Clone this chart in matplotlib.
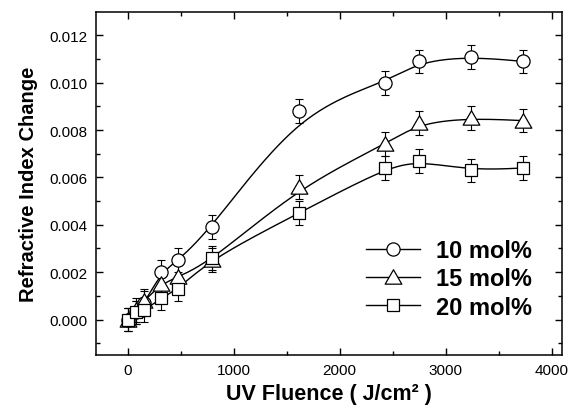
import numpy as np
import matplotlib
matplotlib.use("Agg")
import matplotlib.pyplot as plt
from matplotlib.lines import Line2D
from matplotlib.path import Path

plt.rcParams['font.family'] = ['Liberation Sans', 'DejaVu Sans']

# values
fluence = [0, 80, 160, 320, 480, 800, 1620, 2430, 2750, 3240, 3730]
dn_10 = [0.0000, 0.0003, 0.0007, 0.0020, 0.0025, 0.0039, 0.0088, 0.0100, 0.0109, 0.0111, 0.0109]
dn_15 = [0.0000, 0.0004, 0.0008, 0.0015, 0.0018, 0.0025, 0.0056, 0.0074, 0.0083, 0.0085, 0.0084]
dn_20 = [0.0000, 0.0003, 0.0004, 0.0009, 0.0013, 0.0026, 0.0045, 0.0064, 0.0067, 0.0063, 0.0064]
err = [0.0005] * 11
labels = ['10 mol%', '15 mol%', '20 mol%']

# equilateral-ish open triangle like Origin's
tri = Path([(-1.0, -0.8), (1.0, -0.8), (0.0, 0.93), (-1.0, -0.8)],
           [Path.MOVETO, Path.LINETO, Path.LINETO, Path.CLOSEPOLY])


def bspline(x, y, n=30):
    # uniform cubic B-spline with the points as control polygon (like Origin's B-spline line)
    px = np.r_[x[0], x[0], x, x[-1], x[-1]].astype(float)
    py = np.r_[y[0], y[0], y, y[-1], y[-1]].astype(float)
    t = np.linspace(0, 1, n)
    b0 = (1 - t) ** 3 / 6
    b1 = (3 * t ** 3 - 6 * t ** 2 + 4) / 6
    b2 = (-3 * t ** 3 + 3 * t ** 2 + 3 * t + 1) / 6
    b3 = t ** 3 / 6
    xs, ys = [], []
    for i in range(len(px) - 3):
        xs.append(b0 * px[i] + b1 * px[i + 1] + b2 * px[i + 2] + b3 * px[i + 3])
        ys.append(b0 * py[i] + b1 * py[i + 1] + b2 * py[i + 2] + b3 * py[i + 3])
    return np.concatenate(xs), np.concatenate(ys)


fig = plt.figure(figsize=(5.72, 4.14), dpi=100)
ax = fig.add_axes([0.1673, 0.140, 0.8157, 0.8293])

series = [(dn_10, 'o', 9.5), (dn_15, tri, 12), (dn_20, 's', 8.7)]
handles = []
for (vals, mk, ms), lab in zip(series, labels):
    sx, sy = bspline(fluence, vals)
    ax.plot(sx, sy, color='black', lw=1.0, zorder=2)
    ax.errorbar(fluence, vals, yerr=err, fmt='none', ecolor='black',
                elinewidth=0.8, capsize=3, capthick=0.8, zorder=2)
    ax.plot(fluence, vals, ls='none', marker=mk, ms=ms, mfc='white',
            mec='black', mew=0.9, zorder=3)
    handles.append(Line2D([], [], color='black', lw=1.0, marker=mk, ms=ms,
                          mfc='white', mec='black', mew=0.9))

ax.set_xlim(-300, 4100)
ax.set_ylim(-0.0015, 0.013)
ax.set_xticks([0, 1000, 2000, 3000, 4000])
ax.set_xticks(np.arange(0, 4001, 500), minor=True)
ax.set_yticks(np.arange(0, 0.0121, 0.002))
ax.set_yticks(np.arange(-0.001, 0.0121, 0.001), minor=True)
ax.set_yticklabels(['%.3f' % v for v in np.arange(0, 0.0121, 0.002)])

ax.tick_params(which='both', direction='in', top=True, right=True, width=1.0,
               labelsize=11, colors='black')
ax.tick_params(which='major', length=5, pad=6)
ax.tick_params(which='minor', length=3)
for sp in ax.spines.values():
    sp.set_linewidth(1.1)

ax.set_xlabel('UV Fluence ( J/cm² )', fontsize=15.5, fontweight='bold', labelpad=4)
ax.set_ylabel('Refractive Index Change', fontsize=14.5, fontweight='bold', labelpad=8)

ax.legend(handles, labels, loc='center left', bbox_to_anchor=(366 / 572, 1 - 280 / 414),
          bbox_transform=fig.transFigure, frameon=False, numpoints=1,
          prop={'size': 17, 'weight': 'bold'}, handlelength=2.3, handletextpad=0.65,
          labelspacing=0.22, borderpad=0, borderaxespad=0)

fig.savefig('out.png', dpi=100)
